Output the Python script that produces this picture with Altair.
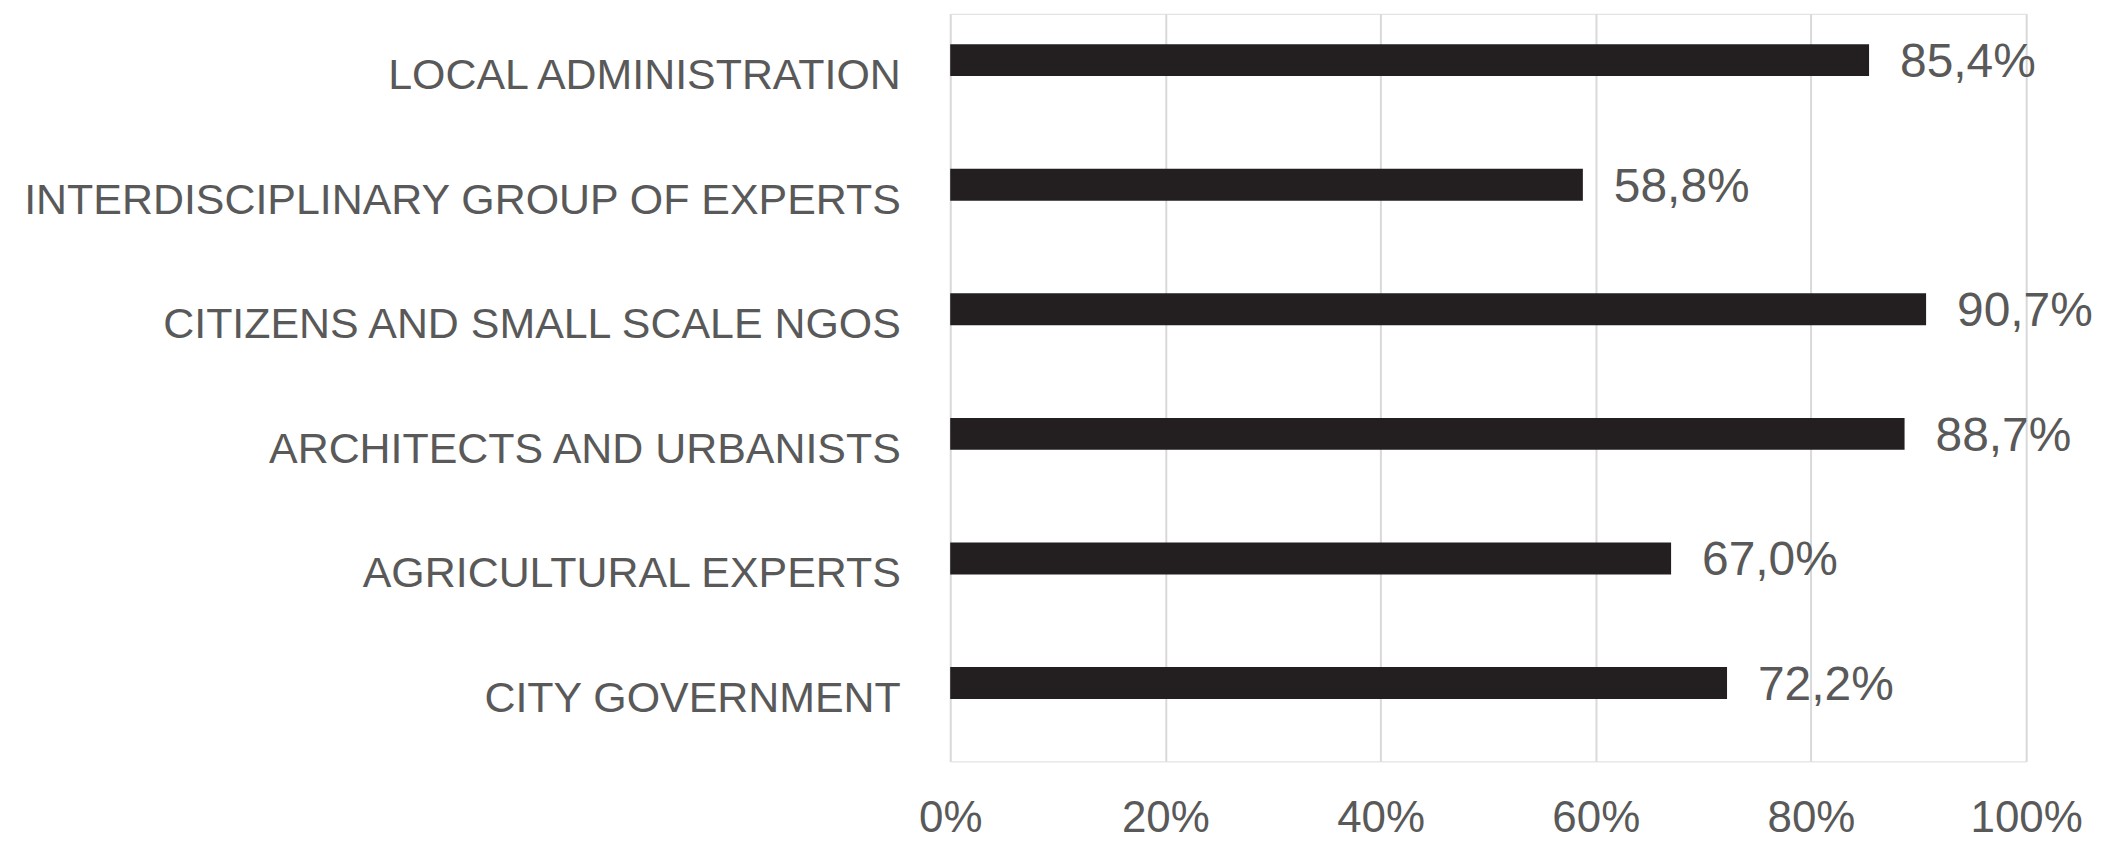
import altair as alt
import pandas as pd

categories = [
    "LOCAL ADMINISTRATION",
    "INTERDISCIPLINARY GROUP OF EXPERTS",
    "CITIZENS AND SMALL SCALE NGOS",
    "ARCHITECTS AND URBANISTS",
    "AGRICULTURAL EXPERTS",
    "CITY GOVERNMENT",
]
values = [85.4, 58.8, 90.7, 88.7, 67.0, 72.2]
x_ticks = [0, 0.2, 0.4, 0.6, 0.8, 1.0]

df = pd.DataFrame({
    "category": categories,
    "value": [v / 100 for v in values],
    "label": [f"{v:.1f}%".replace(".", ",") for v in values],
})

FONT = "Liberation Sans, Arial, sans-serif"
TEXT = "#595959"

y_enc = alt.Y("category:N", sort=categories, title=None,
              scale=alt.Scale(paddingInner=0, paddingOuter=0),
              axis=alt.Axis(labelFont=FONT, labelFontSize=43, labelColor=TEXT,
                            labelPadding=50, ticks=False, domain=False,
                            grid=False, labelLimit=1000))
x_enc = alt.X("value:Q", title=None,
              scale=alt.Scale(domain=[0, 1]),
              axis=alt.Axis(values=x_ticks, format="0%", labelFont=FONT,
                            labelFontSize=44, labelColor=TEXT, labelPadding=35,
                            labelFlush=False, ticks=False, domain=False,
                            grid=True, gridColor="#d9d9d9", gridWidth=2))

base = alt.Chart(df)
bars = base.mark_bar(size=32, yOffset=-16, color="#231f20").encode(x=x_enc, y=y_enc)
text = base.mark_text(align="left", baseline="middle", dx=31, yOffset=-13,
                      font=FONT, fontSize=48, color=TEXT).encode(
    x="value:Q", y=alt.Y("category:N", sort=categories), text="label:N")

chart = (bars + text).properties(
    width=1078, height=749,
    autosize=alt.AutoSizeParams(type="none"),
    padding={"left": 944, "top": 5, "right": 80, "bottom": 83},
).configure_view(stroke=None).configure(background="white")

chart.save("out.html", embed_options={"renderer": "svg", "actions": False})
